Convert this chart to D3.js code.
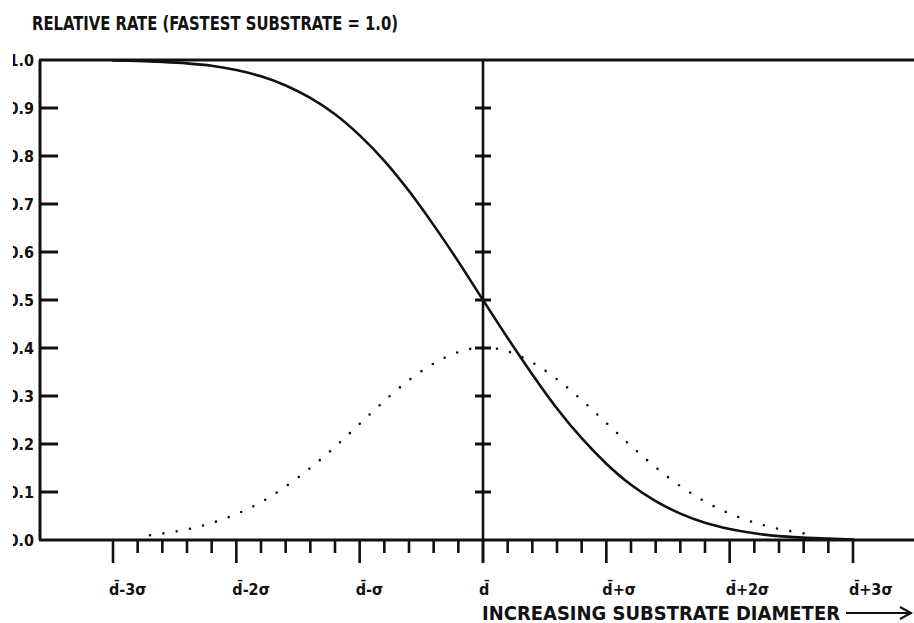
<!DOCTYPE html>
<html>
<head>
<meta charset="utf-8">
<script src="https://cdn.jsdelivr.net/npm/d3@7"></script>
<style>
  body { margin: 0; background: #fff; }
  text { font-family: "DejaVu Sans Condensed", "DejaVu Sans", sans-serif; font-weight: bold; fill: #111; }
</style>
</head>
<body>
<div id="chart"></div>
<script>
// values (x in units of sigma from the mean diameter)
var rateZ = [-3.0, -2.8, -2.6, -2.4, -2.2, -2.0, -1.8, -1.6, -1.4, -1.2, -1.0,
  -0.8, -0.6, -0.4, -0.2, 0.0, 0.2, 0.4, 0.6, 0.8, 1.0,
  1.2, 1.4, 1.6, 1.8, 2.0, 2.2, 2.4, 2.6, 2.8, 3.0];
var rateValues = [0.999, 0.998, 0.996, 0.993, 0.988, 0.979, 0.966, 0.947, 0.921, 0.887, 0.843,
  0.790, 0.727, 0.656, 0.580, 0.500, 0.421, 0.345, 0.274, 0.212, 0.159,
  0.115, 0.081, 0.055, 0.036, 0.023, 0.014, 0.008, 0.005, 0.003, 0.001];

var distZ = [-2.7, -2.4, -2.1, -1.8, -1.5, -1.2, -0.9, -0.6, -0.3, 0.0,
  0.3, 0.6, 0.9, 1.2, 1.5, 1.8, 2.1, 2.4, 2.7];
var distValues = [0.010, 0.022, 0.044, 0.079, 0.130, 0.194, 0.266, 0.333, 0.381, 0.401,
  0.383, 0.335, 0.268, 0.196, 0.131, 0.080, 0.045, 0.023, 0.010];

var yTicks = [0.1, 0.2, 0.3, 0.4, 0.5, 0.6, 0.7, 0.8, 0.9];
var yLabels = ["0.0", "0.1", "0.2", "0.3", "0.4", "0.5", "0.6", "0.7", "0.8", "0.9", "1.0"];
var xMajor = [-3, -2, -1, 0, 1, 2, 3];
// d with combining macron (d-bar = mean diameter)
var xLabels = ["d\u0304-3\u03c3", "d\u0304-2\u03c3", "d\u0304-\u03c3", "d\u0304", "d\u0304+\u03c3", "d\u0304+2\u03c3", "d\u0304+3\u03c3"];
var xMinor = d3.range(-3, 3.01, 0.2).filter(function (v) { return Math.abs(v - Math.round(v)) > 0.05; });

var svgWidth = 914;
var svgHeight = 623;

var svg = d3.select("#chart")
  .append("svg")
  .attr("width", svgWidth)
  .attr("height", svgHeight);

// scales: plot frame is 40..914 wide, 60..540 tall
var x = d3.scaleLinear().domain([-3, 3]).range([113, 853]);
var y = d3.scaleLinear().domain([0, 1]).range([540, 60]);

var ink = "#111";

// title
svg.append("text")
  .attr("x", 32)
  .attr("y", 30)
  .attr("font-size", 19)
  .attr("textLength", 366)
  .attr("lengthAdjust", "spacingAndGlyphs")
  .text("RELATIVE RATE (FASTEST SUBSTRATE = 1.0)");

// frame: left axis, top line, bottom axis
svg.append("line").attr("x1", 40).attr("x2", 40).attr("y1", y(1)).attr("y2", y(0))
  .attr("stroke", ink).attr("stroke-width", 3);
svg.append("line").attr("x1", 39).attr("x2", 914).attr("y1", y(1)).attr("y2", y(1))
  .attr("stroke", ink).attr("stroke-width", 3.2);
svg.append("line").attr("x1", 39).attr("x2", 914).attr("y1", y(0)).attr("y2", y(0))
  .attr("stroke", ink).attr("stroke-width", 3.2);

// centre line at mean diameter
svg.append("line").attr("x1", x(0)).attr("x2", x(0)).attr("y1", y(1)).attr("y2", y(0) + 23)
  .attr("stroke", ink).attr("stroke-width", 2.6);

// y ticks on left axis and on centre line
svg.selectAll(".ytick").data(yTicks).enter().append("line")
  .attr("x1", 40).attr("x2", 58)
  .attr("y1", function (d) { return y(d); }).attr("y2", function (d) { return y(d); })
  .attr("stroke", ink).attr("stroke-width", 3);
svg.selectAll(".ctick").data(yTicks).enter().append("line")
  .attr("x1", x(0) - 8).attr("x2", x(0) + 8)
  .attr("y1", function (d) { return y(d); }).attr("y2", function (d) { return y(d); })
  .attr("stroke", ink).attr("stroke-width", 3);

// y labels, clipped on the left like the scan
svg.append("clipPath").attr("id", "labclip")
  .append("rect").attr("x", 13).attr("y", 0).attr("width", 40).attr("height", svgHeight);
svg.append("g").attr("clip-path", "url(#labclip)")
  .selectAll("text").data(yLabels).enter().append("text")
  .attr("x", 34)
  .attr("y", function (d) { return y(+d) + 6; })
  .attr("text-anchor", "end")
  .attr("font-size", 16)
  .text(function (d) { return d; });

// x ticks
svg.selectAll(".xmajor").data(xMajor).enter().append("line")
  .attr("x1", function (d) { return x(d); }).attr("x2", function (d) { return x(d); })
  .attr("y1", y(0)).attr("y2", y(0) + 23)
  .attr("stroke", ink).attr("stroke-width", 2.6);
svg.selectAll(".xminor").data(xMinor).enter().append("line")
  .attr("x1", function (d) { return x(d); }).attr("x2", function (d) { return x(d); })
  .attr("y1", y(0)).attr("y2", y(0) + 13)
  .attr("stroke", ink).attr("stroke-width", 2.6);

svg.selectAll(".xlab").data(xMajor).enter().append("text")
  .attr("x", function (d) { return x(d) - 4; })
  .attr("y", 595)
  .attr("font-size", 16)
  .text(function (d, i) { return xLabels[i]; });

// x axis title and arrow
svg.append("text")
  .attr("x", 482)
  .attr("y", 620)
  .attr("font-size", 19)
  .attr("textLength", 358)
  .attr("lengthAdjust", "spacingAndGlyphs")
  .text("INCREASING SUBSTRATE DIAMETER");
svg.append("path")
  .attr("d", "M846,613 L910,613 M900,607 L911,613 L900,619")
  .attr("fill", "none").attr("stroke", ink).attr("stroke-width", 2);

// relative rate curve (solid)
var rateLine = d3.line()
  .x(function (d, i) { return x(rateZ[i]); })
  .y(function (d) { return y(d); })
  .curve(d3.curveMonotoneX);
svg.append("path")
  .attr("d", rateLine(rateValues))
  .attr("fill", "none").attr("stroke", ink).attr("stroke-width", 2.6)
  .attr("stroke-linecap", "round");

// size distribution (dotted)
var distLine = d3.line()
  .x(function (d, i) { return x(distZ[i]); })
  .y(function (d) { return y(d); })
  .curve(d3.curveNatural);
svg.append("path")
  .attr("d", distLine(distValues))
  .attr("fill", "none").attr("stroke", ink).attr("stroke-width", 2.6)
  .attr("stroke-linecap", "round")
  .attr("stroke-dasharray", "0 13.5");
</script>
</body>
</html>
